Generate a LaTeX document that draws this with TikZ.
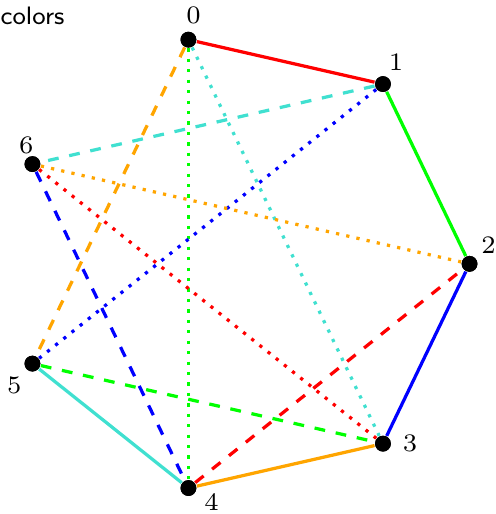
\documentclass[tikz,border=0pt]{standalone}
\usetikzlibrary{calc}
\definecolor{edgeorange}{HTML}{FFA500}
\definecolor{edgeturq}{HTML}{40E0D0}

\begin{document}
\begin{tikzpicture}[
  vtx/.style={circle, fill=black, inner sep=0pt, minimum size=4.4pt},
  num/.style={font=\scriptsize, inner sep=0pt},
  edge/.style={line width=0.9pt},
]
\useasboundingbox (-2.339,-2.442) rectangle (2.503,2.576);

\node[font=\scriptsize\sffamily, anchor=base west, inner sep=0pt] (title) at (-2.339, 2.332) {colors};

% === vertices ===
\foreach \i in {0,...,6}
  \node[vtx] (v\i) at ({(2-\i)*360/7}:2.245) {};

% === labels ===
\foreach \i/\dx/\dy in {0/0.05/0.234, 1/0.127/0.215, 2/0.185/0.185, 3/0.264/0,
                        4/0.225/-0.137, 5/-0.176/-0.215, 6/-0.059/0.185}
  \node[num] (l\i) at ($(v\i)+(\dx,\dy)$) {\i};

% === solid ===
\foreach \a/\b/\c in {0/1/red, 1/2/green, 2/3/blue, 3/4/edgeorange, 4/5/edgeturq}
  \draw[edge, \c] (v\a) -- (v\b);

% === dashed ===
\foreach \a/\b/\c in {0/5/edgeorange, 1/6/edgeturq, 6/4/blue, 5/3/green, 4/2/red}
  \draw[edge, dashed, \c] (v\a) -- (v\b);

% === dotted ===
\foreach \a/\b/\c in {0/4/green, 0/3/edgeturq, 1/5/blue, 6/2/edgeorange, 6/3/red}
  \draw[edge, dotted, \c] (v\a) -- (v\b);

% dots on top
\foreach \i in {0,...,6}
  \node[vtx] at (v\i) {};

\end{tikzpicture}
\end{document}
